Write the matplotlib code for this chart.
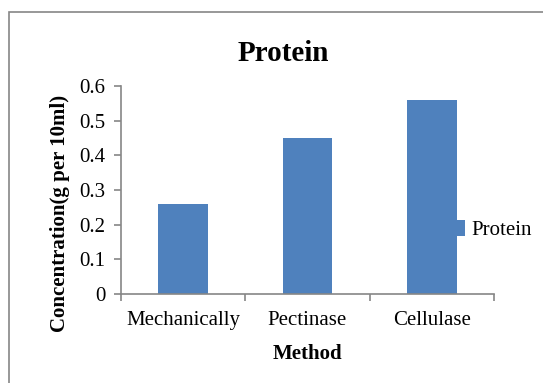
import matplotlib.pyplot as plt
from matplotlib.patches import Rectangle

methods = ["Mechanically", "Pectinase", "Cellulase"]
protein = [0.26, 0.45, 0.56]
yticks = [0, 0.1, 0.2, 0.3, 0.4, 0.5, 0.6]

plt.rcParams['font.family'] = ['Liberation Serif', 'DejaVu Serif']
grey = '#868686'
blue = '#4F81BD'

fig = plt.figure(figsize=(5.43, 3.83), dpi=100)
# chart border, runs off the right and bottom edges
fig.patches.append(Rectangle((9 / 543, -0.1), 1.2, 1 - 12 / 383 + 0.1,
                             transform=fig.transFigure, fill=False,
                             edgecolor=grey, linewidth=1.2))

ax = fig.add_axes([121 / 543, 1 - 294 / 383, 373 / 543, 208 / 383])
x = list(range(len(methods)))
bars = ax.bar(x, protein, width=0.4, color=blue, label="Protein")

ax.set_xlim(-0.5, 2.5)
ax.set_ylim(0, 0.6)
ax.set_yticks(yticks)
ax.set_yticklabels([f"{t:g}" for t in yticks])
ax.set_xticks([-0.5, 0.5, 1.5, 2.5])
ax.set_xticklabels([])
ax.set_xticks(x, minor=True)
ax.set_xticklabels(methods, minor=True)

for s in ['top', 'right']:
    ax.spines[s].set_visible(False)
for s in ['left', 'bottom']:
    ax.spines[s].set_color(grey)
    ax.spines[s].set_linewidth(1.2)
ax.tick_params(axis='y', direction='out', length=5, width=1.2, color=grey,
               labelsize=15, pad=6)
ax.tick_params(axis='x', which='major', direction='out', length=5, width=1.2,
               color=grey)
ax.tick_params(axis='x', which='minor', length=0, labelsize=15, pad=12)

# title sits centred on the whole chart area, not on the plot
ax.set_title("Protein", fontsize=21, fontweight='bold', x=0.434, pad=18)
ax.set_xlabel("Method", fontsize=15, fontweight='bold', labelpad=10)
ax.set_ylabel("Concentration(g per 10ml)", fontsize=15, fontweight='bold')
ax.yaxis.set_label_coords(-0.138, 0.385)

fig.legend(handles=[bars], loc='center left',
           bbox_to_anchor=(456 / 543, 1 - 230 / 383), frameon=False,
           handlelength=0.45, handleheight=0.8, handletextpad=0.3,
           borderpad=0, borderaxespad=0, fontsize=15)

fig.savefig("out.png", dpi=100)
